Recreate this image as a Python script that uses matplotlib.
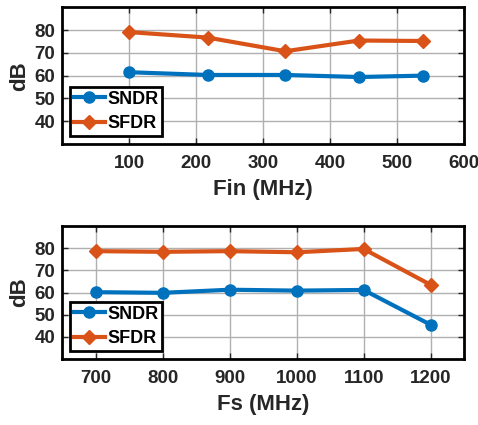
import matplotlib
matplotlib.use("Agg")
import matplotlib.pyplot as plt

# Fin sweep
fin = [100, 217, 333, 443, 538]
sndr_fin = [61.5, 60.3, 60.3, 59.4, 60.0]
sfdr_fin = [79.1, 76.7, 70.7, 75.4, 75.2]

# Fs sweep
fs = [700, 800, 900, 1000, 1100, 1200]
sndr_fs = [60.2, 59.9, 61.3, 60.9, 61.2, 45.5]
sfdr_fs = [78.7, 78.4, 78.7, 78.2, 79.7, 63.5]

blue = '#0072BD'
orange = '#D95319'

plt.rcParams['font.family'] = ['Liberation Sans', 'DejaVu Sans']
plt.rcParams['font.weight'] = 'bold'

fig = plt.figure(figsize=(4.78, 4.25), dpi=100)
ax1 = fig.add_axes([0.130, 0.661, 0.841, 0.322])
ax2 = fig.add_axes([0.130, 0.155, 0.841, 0.313])


def style(ax, x, sndr, sfdr, xlim, xticks, xlabel):
    ax.plot(x, sndr, '-o', color=blue, lw=3, ms=8, label='SNDR')
    ax.plot(x, sfdr, '-D', color=orange, lw=3, ms=7, label='SFDR')
    ax.set_xlim(*xlim)
    ax.set_ylim(30, 90)
    ax.set_xticks(xticks)
    ax.set_yticks([40, 50, 60, 70, 80])
    ax.grid(True, color='#b0b0b0', lw=1)
    ax.set_axisbelow(True)
    for s in ax.spines.values():
        s.set_linewidth(2)
    ax.tick_params(direction='in', top=True, right=True, length=4, width=1,
                   labelsize=13.5, colors='#262626', labelcolor='#262626')
    ax.tick_params(axis='x', pad=8)
    ax.tick_params(axis='y', pad=5)
    ax.set_xlabel(xlabel, fontsize=16, fontweight='bold', color='#262626', labelpad=5)
    ax.set_ylabel('dB', fontsize=16, fontweight='bold', color='#262626', labelpad=3)
    leg = ax.legend(loc='lower left', handlelength=1.7, handletextpad=0.15,
                    borderpad=0.2, labelspacing=0.42, fancybox=False, framealpha=1,
                    borderaxespad=0.45, prop={'weight': 'bold', 'size': 13})
    leg.get_frame().set_edgecolor('black')
    leg.get_frame().set_linewidth(2)


style(ax1, fin, sndr_fin, sfdr_fin, (0, 600), [100, 200, 300, 400, 500, 600], 'Fin (MHz)')
style(ax2, fs, sndr_fs, sfdr_fs, (650, 1250), fs, 'Fs (MHz)')

fig.savefig('out.png', dpi=100)
